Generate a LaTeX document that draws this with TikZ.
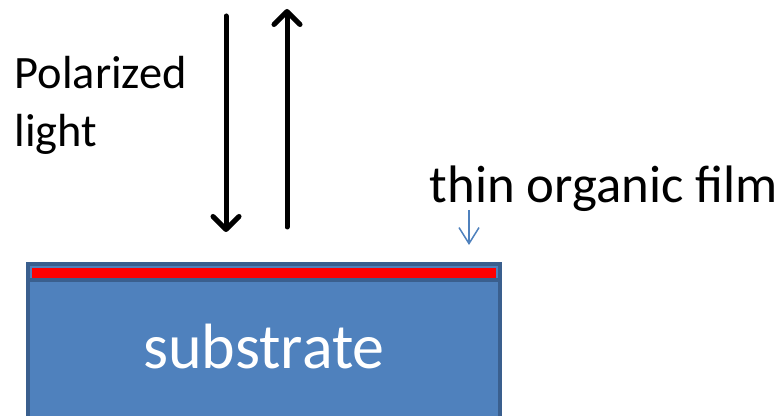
\documentclass[tikz,border=0pt]{standalone}
\usepackage{fontspec}
\setmainfont{Carlito}
\usetikzlibrary{arrows.meta}
\definecolor{subfill}{HTML}{4F81BD}
\definecolor{subedge}{HTML}{3A5F8E}
\begin{document}
\begin{tikzpicture}[x=0.01cm, y=-0.01cm,
    beam/.style={line width=0.05cm, line cap=round,
        -{Straight Barb[length=0.13cm, width=0.26cm, line cap=round, line join=round]}},
    pointer/.style={subfill, line width=0.015cm,
        -{Straight Barb[length=0.16cm, width=0.2cm]}}]
    \useasboundingbox (0,0) rectangle (783,416);
    % substrate with the film on top
    \fill[subfill] (28,264) rectangle (500,430);
    \fill[red] (32,268) rectangle (496,278);
    \draw[subedge, line width=0.04cm] (28,430) -- (28,264) -- (500,264) -- (500,430);
    \draw[subedge, line width=0.04cm] (28,280) -- (500,280);
    \node[anchor=base, text=white, font=\fontsize{18.2}{22}\selectfont] (substrate) at (264,368) {substrate};
    % labels
    \node[anchor=base west, inner sep=0pt, align=left, font=\fontsize{13.2}{16.5}\selectfont] (polar) at (14,147) {Polarized\\light};
    \node[anchor=base west, inner sep=0pt, font=\fontsize{15}{18}\selectfont] (film) at (429,203) {thin organic film};
    % light in and out
    \coordinate (inTop) at (226,16);
    \coordinate (inEnd) at (226,232);
    \coordinate (outBot) at (287,227);
    \coordinate (outEnd) at (287,9);
    \draw[beam] (inTop) -- (inEnd);
    \draw[beam] (outBot) -- (outEnd);
    % film pointer
    \coordinate (ptrTop) at (469,210);
    \coordinate (ptrEnd) at (469,245);
    \draw[pointer] (ptrTop) -- (ptrEnd);
\end{tikzpicture}
\end{document}
